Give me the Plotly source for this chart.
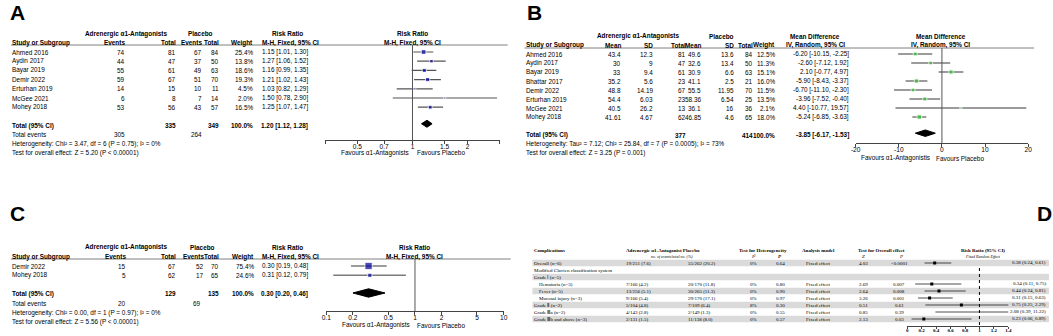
import math
import plotly.graph_objects as go

W, H = 1053, 336
SANS = "Liberation Sans, Arial, sans-serif"
SERIF = "Liberation Serif, Times New Roman, serif"
FS = 6.4

# ---------------- Panel A data ----------------
a_study = ["Ahmed 2016", "Aydin 2017", "Bayar 2019", "Demir 2022", "Erturhan 2019", "McGee 2021", "Mohey 2018"]
a_exp_events = [74, 44, 55, 59, 14, 6, 53]
a_exp_total = [81, 47, 61, 67, 15, 8, 56]
a_pla_events = [67, 37, 49, 51, 10, 7, 43]
a_pla_total = [84, 50, 63, 70, 11, 14, 57]
a_weight = [25.4, 13.8, 18.6, 19.3, 4.5, 2.0, 16.5]
a_rr = [1.15, 1.27, 1.16, 1.21, 1.03, 1.50, 1.25]
a_lo = [1.01, 1.06, 0.99, 1.02, 0.82, 0.78, 1.07]
a_hi = [1.30, 1.52, 1.35, 1.43, 1.29, 2.90, 1.47]
a_total = [335, 349]
a_total_events = [305, 264]
a_pooled = [1.20, 1.12, 1.28]
a_het = "Heterogeneity: Chi² = 3.47, df = 6 (P = 0.75); I² = 0%"
a_test = "Test for overall effect: Z = 5.20 (P < 0.00001)"
a_ticks = [1 / 3, 0.5, 0.7, 1, 1.5, 2, 3]
a_ticklabels = ["", "0.5", "0.7", "1", "1.5", "2", ""]

# ---------------- Panel B data ----------------
b_study = ["Ahmed 2016", "Aydin 2017", "Bayar 2019", "Bhattar 2017", "Demir 2022", "Erturhan 2019", "McGee 2021", "Mohey 2018"]
b_exp_mean = [43.4, 30, 33, 35.2, 48.8, 54.4, 40.5, 41.61]
b_exp_sd = [12.3, 9, 9.4, 5.6, 14.19, 6.03, 26.2, 4.67]
b_exp_n = [81, 47, 61, 23, 67, 23, 13, 62]
b_pla_mean = [49.6, 32.6, 30.9, 41.1, 55.5, 58.36, 36.1, 46.85]
b_pla_sd = [13.6, 13.4, 6.6, 2.5, 11.95, 6.54, 16, 4.6]
b_pla_n = [84, 50, 63, 21, 70, 25, 36, 65]
b_weight = [12.5, 11.3, 15.1, 16.0, 11.5, 13.5, 2.1, 18.0]
b_md = [-6.20, -2.60, 2.10, -5.90, -6.70, -3.96, 4.40, -5.24]
b_lo = [-10.15, -7.12, -0.77, -8.43, -11.10, -7.52, -10.77, -6.85]
b_hi = [-2.25, 1.92, 4.97, -3.37, -2.30, -0.40, 19.57, -3.63]
b_total = [377, 414]
b_pooled = [-3.85, -6.17, -1.53]
b_het = "Heterogeneity: Tau² = 7.12; Chi² = 25.84, df = 7 (P = 0.0005); I² = 73%"
b_test = "Test for overall effect: Z = 3.25 (P = 0.001)"
b_ticks = [-20, -10, 0, 10, 20]

# ---------------- Panel C data ----------------
c_study = ["Demir 2022", "Mohey 2018"]
c_exp_events = [15, 5]
c_exp_total = [67, 62]
c_pla_events = [52, 17]
c_pla_total = [70, 65]
c_weight = [75.4, 24.6]
c_rr = [0.30, 0.31]
c_lo = [0.19, 0.12]
c_hi = [0.48, 0.79]
c_total = [129, 135]
c_total_events = [20, 69]
c_pooled = [0.30, 0.20, 0.46]
c_het = "Heterogeneity: Chi² = 0.00, df = 1 (P = 0.97); I² = 0%"
c_test = "Test for overall effect: Z = 5.56 (P < 0.00001)"
c_ticks = [0.1, 0.2, 0.5, 1, 2, 5, 10]

# ---------------- Panel D data ----------------
d_labels = ["Overall (n=6)", "Modified Clavien classification system", "Grade Ⅰ (n=5)",
            "Hematuria (n=3)", "Fever (n=5)", "Mucosal injury (n=3)",
            "Grade Ⅱ (n=2)", "Grade Ⅲa (n=2)", "Grade Ⅲb and above (n=3)"]
d_rows = [0, 3, 4, 5, 6, 7, 8]
d_exp_e = [19, 7, 13, 9, 5, 4, 2]
d_exp_n = [251, 166, 256, 166, 104, 143, 131]
d_exp_pct = [7.6, 4.2, 5.1, 5.4, 4.8, 2.8, 1.5]
d_pla_e = [55, 20, 30, 29, 7, 2, 11]
d_pla_n = [262, 170, 265, 170, 109, 149, 138]
d_pla_pct = [20.2, 11.8, 11.3, 17.1, 6.4, 1.3, 8.0]
d_i2 = [0, 0, 0, 0, 8, 0, 0]
d_phet = [0.64, 0.80, 0.90, 0.97, 0.30, 0.55, 0.57]
d_z = [4.03, 2.69, 2.64, 3.26, 0.51, 0.85, 2.13]
d_p = ["<0.0001", "0.007", "0.008", "0.001", "0.61", "0.39", "0.03"]
d_rr = [0.38, 0.34, 0.44, 0.31, 0.75, 2.08, 0.23]
d_lo = [0.24, 0.11, 0.24, 0.15, 0.25, 0.39, 0.06]
d_hi = [0.61, 0.75, 0.81, 0.63, 2.29, 11.22, 0.89]
d_ticks = [0, 0.2, 0.4, 0.6, 0.8, 1, 1.2, 1.4]

# ---------------- helpers ----------------
ann = []
shapes = []
fig = go.Figure()


def P(p):
    return 1 - p / H


def T(x, y, s, yref="paper", anchor="left", size=FS, bold=False, italic=False, family=SANS):
    if bold:
        s = f"<b>{s}</b>"
    if italic:
        s = f"<i>{s}</i>"
    ann.append(dict(x=x / W, xref="paper", y=P(y) if yref == "paper" else y, yref=yref,
                    text=s, xanchor=anchor, yanchor="middle", showarrow=False, borderpad=0,
                    font=dict(size=size, family=family, color="black")))


def hline(x0, x1, y, color="#808080", width=1):
    shapes.append(dict(type="line", xref="paper", yref="paper", x0=x0 / W, x1=x1 / W,
                       y0=P(y), y1=P(y), line=dict(color=color, width=width)))


def vline(xref, x, y0, y1, color="#555", width=1, dash="solid"):
    shapes.append(dict(type="line", xref=xref, yref="paper", x0=x, x1=x, y0=P(y1), y1=P(y0),
                       line=dict(color=color, width=width, dash=dash)))


def setup_axes(n, xdom, panel_px, axis_px, p0, step, xtype, xrange, tickvals, ticktext,
               tsize=6.6, tlen=3, family=SANS):
    top, bot = panel_px
    sfx = "" if n == 1 else str(n)
    fig.layout["xaxis" + sfx] = dict(domain=[xdom[0] / W, xdom[1] / W], anchor="free", position=P(axis_px),
                                     type=xtype, range=xrange, tickvals=tickvals, ticktext=ticktext,
                                     ticks="outside", ticklen=tlen, tickcolor="#444", showline=True,
                                     linecolor="#444", linewidth=1, showgrid=False, zeroline=False,
                                     ticklabelstandoff=-3,
                                     tickfont=dict(size=tsize, family=family, color="black"),
                                     fixedrange=True)
    fig.layout["yaxis" + sfx] = dict(domain=[P(bot), P(top)], anchor="x" + sfx,
                                     range=[(bot - p0) / step, (top - p0) / step], visible=False,
                                     fixedrange=True)


def diamond(est, lo, hi, y, h):
    return [lo, est, hi, est, lo], [y, y - h, y, y + h, y]


# ================= Panel A =================
A = dict(p0=52, step=9.2, axis=140, head=45)
setup_axes(1, (323, 499), (0, 168), A["axis"], A["p0"], A["step"], "log",
           [math.log10(1 / 3), math.log10(3)], a_ticks, a_ticklabels)
T(4, 13, "A", size=21, bold=True)
T(122, -2, "Adrenergic α1-Antagonists", "y", "center", bold=True)
T(197, -2, "Placebo", "y", "center", bold=True)
T(285, -2, "Risk Ratio", "y", "center", bold=True)
T(411, -2, "Risk Ratio", "y", "center", bold=True)
for x, s, anc in [(6, "Study or Subgroup", "left"), (122, "Events", "right"), (173, "Total", "right"),
                  (200, "Events", "right"), (217, "Total", "right"), (251, "Weight", "right"),
                  (258, "M-H, Fixed, 95% CI", "left"), (411, "M-H, Fixed, 95% CI", "center")]:
    T(x, -1, s, "y", anc, bold=True)
hline(6, 507, A["head"])
for i, s in enumerate(a_study):
    T(6, i, s, "y")
    T(122, i, str(a_exp_events[i]), "y", "right")
    T(173, i, str(a_exp_total[i]), "y", "right")
    T(200, i, str(a_pla_events[i]), "y", "right")
    T(217, i, str(a_pla_total[i]), "y", "right")
    T(251, i, f"{a_weight[i]:.1f}%", "y", "right")
    T(258, i, f"{a_rr[i]:.2f} [{a_lo[i]:.2f}, {a_hi[i]:.2f}]", "y", "left")
na = len(a_study)
T(6, na + 1, "Total (95% CI)", "y", bold=True)
T(173, na + 1, str(a_total[0]), "y", "right", bold=True)
T(217, na + 1, str(a_total[1]), "y", "right", bold=True)
T(251, na + 1, "100.0%", "y", "right", bold=True)
T(257, na + 1, f"{a_pooled[0]:.2f} [{a_pooled[1]:.2f}, {a_pooled[2]:.2f}]", "y", "left", bold=True)
T(6, na + 2, "Total events", "y")
T(122, na + 2, str(a_total_events[0]), "y", "right")
T(200, na + 2, str(a_total_events[1]), "y", "right")
T(6, na + 3, a_het, "y")
T(6, na + 4, a_test, "y")
T(408, 153, "Favours α1-Antagonists", anchor="right")
T(415, 153, "Favours Placebo", anchor="left")
vline("x", 1, A["head"], A["axis"])
xs, ys = [], []
for i in range(na):
    xs += [a_lo[i], a_hi[i], None]
    ys += [i, i, None]
fig.add_trace(go.Scatter(x=xs, y=ys, mode="lines", line=dict(color="#555", width=1.2),
                         xaxis="x", yaxis="y", hoverinfo="skip"))
fig.add_trace(go.Scatter(x=a_rr, y=list(range(na)), mode="markers",
                         marker=dict(symbol="square", color="#0000A0",
                                     size=[max(2, 0.95 * w ** 0.5) for w in a_weight]),
                         xaxis="x", yaxis="y"))
dx, dy = diamond(a_pooled[0], a_pooled[1], a_pooled[2], na + 0.8, 0.38)
fig.add_trace(go.Scatter(x=dx, y=dy, mode="lines", fill="toself", fillcolor="black",
                         line=dict(color="black", width=1), xaxis="x", yaxis="y"))

# ================= Panel B =================
B = dict(p0=54, step=9, axis=143, head=48)
setup_axes(2, (858, 1032), (0, 168), B["axis"], B["p0"], B["step"], "linear",
           [-20, 20], b_ticks, [str(t) for t in b_ticks])
T(525, 13, "B", size=21, bold=True)
T(638, -2, "Adrenergic α1-Antagonists", "y2", "center", bold=True)
T(723, -2, "Placebo", "y2", "center", bold=True)
T(817, -2, "Mean Difference", "y2", "center", bold=True)
T(944, -2, "Mean Difference", "y2", "center", bold=True)
for x, s, anc in [(524, "Study or Subgroup", "left"), (622, "Mean", "right"), (655, "SD", "right"),
                  (688, "Total", "right"), (703, "Mean", "right"), (736, "SD", "right"),
                  (755, "Total", "right"), (778, "Weight", "right"),
                  (817, "IV, Random, 95% CI", "center"), (944, "IV, Random, 95% CI", "center")]:
    T(x, -1, s, "y2", anc, bold=True)
hline(524, 1038, B["head"])
for i, s in enumerate(b_study):
    T(524, i, s, "y2")
    T(622, i, f"{b_exp_mean[i]:g}", "y2", "right")
    T(655, i, f"{b_exp_sd[i]:g}", "y2", "right")
    T(688, i, str(b_exp_n[i]), "y2", "right")
    T(703, i, f"{b_pla_mean[i]:g}", "y2", "right")
    T(736, i, f"{b_pla_sd[i]:g}", "y2", "right")
    T(755, i, str(b_pla_n[i]), "y2", "right")
    T(778, i, f"{b_weight[i]:.1f}%", "y2", "right")
    T(852, i, f"{b_md[i]:.2f} [{b_lo[i]:.2f}, {b_hi[i]:.2f}]", "y2", "right")
nb = len(b_study)
T(524, nb + 1, "Total (95% CI)", "y2", bold=True)
T(688, nb + 1, str(b_total[0]), "y2", "right", bold=True)
T(755, nb + 1, str(b_total[1]), "y2", "right", bold=True)
T(778, nb + 1, "100.0%", "y2", "right", bold=True)
T(852, nb + 1, f"{b_pooled[0]:.2f} [{b_pooled[1]:.2f}, {b_pooled[2]:.2f}]", "y2", "right", bold=True)
T(524, nb + 2, b_het, "y2")
T(524, nb + 3, b_test, "y2")
T(934, 158, "Favours α1-Antagonistis", anchor="right")
T(938, 158, "Favours Placebo", anchor="left")
vline("x2", 0, B["head"], B["axis"])
xs, ys = [], []
for i in range(nb):
    xs += [b_lo[i], b_hi[i], None]
    ys += [i, i, None]
fig.add_trace(go.Scatter(x=xs, y=ys, mode="lines", line=dict(color="#7a7a7a", width=1.6),
                         xaxis="x2", yaxis="y2", hoverinfo="skip"))
fig.add_trace(go.Scatter(x=b_md, y=list(range(nb)), mode="markers",
                         marker=dict(symbol="square", color="#2EC42E",
                                     size=[max(2, 1.1 * w ** 0.5) for w in b_weight]),
                         xaxis="x2", yaxis="y2"))
dx, dy = diamond(b_pooled[0], b_pooled[1], b_pooled[2], nb + 0.8, 0.36)
fig.add_trace(go.Scatter(x=dx, y=dy, mode="lines", fill="toself", fillcolor="black",
                         line=dict(color="black", width=1), xaxis="x2", yaxis="y2"))

# ================= Panel C =================
C = dict(p0=266, step=9.3, axis=311, head=259)
setup_axes(3, (324, 503), (172, 336), C["axis"], C["p0"], C["step"], "log",
           [-1, 1], c_ticks, [f"{t:g}" for t in c_ticks])
T(4, 213, "C", size=21, bold=True)
T(122, -2, "Adrenergic α1-Antagonists", "y3", "center", bold=True)
T(199, -2, "Placebo", "y3", "center", bold=True)
T(285, -2, "Risk Ratio", "y3", "center", bold=True)
T(413, -2, "Risk Ratio", "y3", "center", bold=True)
for x, s, anc in [(6, "Study or Subgroup", "left"), (123, "Events", "right"), (173, "Total", "right"),
                  (202, "Events", "right"), (217, "Total", "right"), (252, "Weight", "right"),
                  (258, "M-H, Fixed, 95% CI", "left"), (413, "M-H, Fixed, 95% CI", "center")]:
    T(x, -1, s, "y3", anc, bold=True)
hline(6, 510, C["head"])
for i, s in enumerate(c_study):
    T(6, i, s, "y3")
    T(123, i, str(c_exp_events[i]), "y3", "right")
    T(173, i, str(c_exp_total[i]), "y3", "right")
    T(202, i, str(c_pla_events[i]), "y3", "right")
    T(217, i, str(c_pla_total[i]), "y3", "right")
    T(252, i, f"{c_weight[i]:.1f}%", "y3", "right")
    T(258, i, f"{c_rr[i]:.2f} [{c_lo[i]:.2f}, {c_hi[i]:.2f}]", "y3", "left")
nc = len(c_study)
T(6, nc + 1, "Total (95% CI)", "y3", bold=True)
T(173, nc + 1, str(c_total[0]), "y3", "right", bold=True)
T(217, nc + 1, str(c_total[1]), "y3", "right", bold=True)
T(252, nc + 1, "100.0%", "y3", "right", bold=True)
T(257, nc + 1, f"{c_pooled[0]:.2f} [{c_pooled[1]:.2f}, {c_pooled[2]:.2f}]", "y3", "left", bold=True)
T(6, nc + 2, "Total events", "y3")
T(123, nc + 2, str(c_total_events[0]), "y3", "right")
T(199, nc + 2, str(c_total_events[1]), "y3", "right")
T(6, nc + 3, c_het, "y3")
T(6, nc + 4, c_test, "y3")
T(410, 325, "Favours α1-Antagonists", anchor="right")
T(415, 325, "Favours Placebo", anchor="left")
vline("x3", 1, C["head"], C["axis"])
xs, ys = [], []
for i in range(nc):
    xs += [c_lo[i], c_hi[i], None]
    ys += [i, i, None]
fig.add_trace(go.Scatter(x=xs, y=ys, mode="lines", line=dict(color="#7a7a7a", width=1.4),
                         xaxis="x3", yaxis="y3", hoverinfo="skip"))
fig.add_trace(go.Scatter(x=c_rr, y=list(range(nc)), mode="markers",
                         marker=dict(symbol="square", color="#0000A0",
                                     size=[max(2, 0.85 * w ** 0.5) for w in c_weight]),
                         xaxis="x3", yaxis="y3"))
dx, dy = diamond(c_pooled[0], c_pooled[1], c_pooled[2], nc + 0.9, 0.45)
fig.add_trace(go.Scatter(x=dx, y=dy, mode="lines", fill="toself", fillcolor="black",
                         line=dict(color="black", width=1), xaxis="x3", yaxis="y3"))

# ================= Panel D =================
D = dict(p0=263, step=7, axis=326)
setup_axes(4, (910, 1012), (240, 336), D["axis"], D["p0"], D["step"], "linear",
           [0, 1.4], d_ticks, [f"<b>{t:g}</b>" for t in d_ticks], tsize=5, tlen=2, family=SERIF)
T(1040, 213, "D", size=21, bold=True)
for r in [0, 2, 4, 6, 8]:
    shapes.append(dict(type="rect", xref="paper", yref="y4", x0=532 / W, x1=1,
                       y0=r - 0.45, y1=r + 0.45, fillcolor="#dadada", line=dict(width=0), layer="below"))
DS = dict(family=SERIF, size=5)
T(533, 250, "Complications", bold=True, **DS)
T(625, 250, "Adrenergic α1-Antagonist Placebo", bold=True, **DS)
T(765, 250, "Test for Heterogeneity", anchor="center", bold=True, **DS)
T(821, 250, "Analysis model", anchor="center", bold=True, **DS)
T(884, 250, "Test for Overall effect", anchor="center", bold=True, **DS)
T(986, 250, "Risk Ratio (95% CI)", anchor="center", bold=True, **DS)
T(673, 256, "no. of events/total no. (%)", anchor="center", italic=True, family=SERIF, size=4)
T(755, 256, "I²", anchor="center", italic=True, **DS)
T(782, 256, "P", anchor="center", italic=True, bold=True, **DS)
T(866, 256, "Z", anchor="center", italic=True, **DS)
T(904, 256, "P", anchor="center", italic=True, **DS)
T(986, 256, "Fixed Random Effect", anchor="center", italic=True, family=SERIF, size=4)
for r, lab in enumerate(d_labels):
    T(538 if r in (3, 4, 5) else 533, r, lab, "y4", **DS)
for k, r in enumerate(d_rows):
    T(625, r, f"{d_exp_e[k]}/{d_exp_n[k]} ({d_exp_pct[k]:.1f})", "y4", **DS)
    T(688, r, f"{d_pla_e[k]}/{d_pla_n[k]} ({d_pla_pct[k]:.1f})", "y4", **DS)
    T(755, r, f"{d_i2[k]}%", "y4", "center", **DS)
    T(782, r, f"{d_phet[k]:.2f}", "y4", "center", **DS)
    T(821, r, "Fixed effect", "y4", "center", **DS)
    T(866, r, f"{d_z[k]:.2f}", "y4", "center", **DS)
    T(902, r, d_p[k], "y4", "center", **DS)
    T(1051, r, f"{d_rr[k]:.2f} ({d_lo[k]:.2f}, {d_hi[k]:.2f})", "y4", "right", **DS)
vline("x4", 1, 267, 325, color="black", width=1, dash="dot")
xs, ys = [], []
for k, r in enumerate(d_rows):
    xs += [d_lo[k], d_hi[k], None]
    ys += [r, r, None]
fig.add_trace(go.Scatter(x=xs, y=ys, mode="lines", line=dict(color="#222", width=0.8),
                         xaxis="x4", yaxis="y4", hoverinfo="skip"))
fig.add_trace(go.Scatter(x=d_rr, y=d_rows, mode="markers",
                         marker=dict(symbol="square", color="black", size=3),
                         xaxis="x4", yaxis="y4"))

fig.update_layout(width=W, height=H, margin=dict(l=0, r=0, t=0, b=0), showlegend=False,
                  paper_bgcolor="white", plot_bgcolor="rgba(0,0,0,0)",
                  annotations=ann, shapes=shapes)
fig.write_html("out.html", config={"displayModeBar": False},
               post_script="document.body.style.margin='0px';document.body.style.overflow='hidden';")
